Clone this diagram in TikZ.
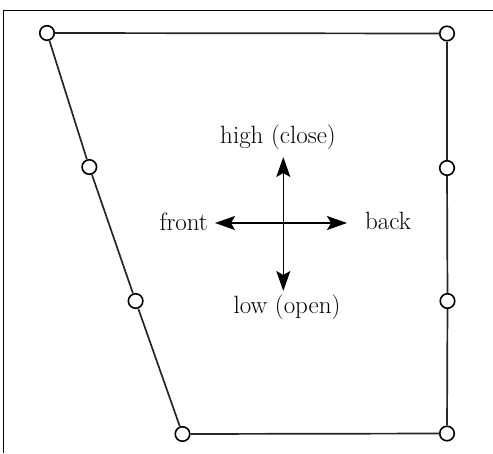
\documentclass[tikz,border=0pt]{standalone}
\usetikzlibrary{arrows.meta}
\begin{document}
\begin{tikzpicture}[x=1pt,y=-1pt,
  joint/.style={circle,draw=black,fill=white,line width=1.6pt,minimum size=14.5pt,inner sep=0pt},
  edge/.style={draw=black!85,line width=1.7pt},
  frameline/.style={draw=black,line width=1.3pt},
  dirarrow/.style={line width=1.6pt,{Stealth[length=20pt,width=14pt,inset=4pt]}-{Stealth[length=20pt,width=14pt,inset=4pt]}},
  lbl/.style={inner sep=0pt,font=\fontsize{25}{29}\selectfont}]
\useasboundingbox (0,0) rectangle (493,453);
\coordinate (f1) at (3.5,453);
\coordinate (f2) at (3.5,10.5);
\coordinate (f3) at (493,10.5);
\draw[frameline] (f1) -- (f2) -- (f3);
% joints
\node[joint] (tl) at (47,33) {};
\node[joint] (l1) at (89.3,167) {};
\node[joint] (l2) at (135.6,301) {};
\node[joint] (bl) at (182.5,434) {};
\node[joint] (br) at (447,433.5) {};
\node[joint] (r2) at (447.5,301) {};
\node[joint] (r1) at (447,168) {};
\node[joint] (tr) at (447,33.5) {};
\draw[edge] (tl) -- (l1);
\draw[edge] (l1) -- (l2);
\draw[edge] (l2) -- (bl);
\draw[edge] (bl) -- (br);
\draw[edge] (br) -- (r2);
\draw[edge] (r2) -- (r1);
\draw[edge] (r1) -- (tr);
\draw[edge] (tr) -- (tl);
% direction arrows
\coordinate (up) at (283.3,157);
\coordinate (down) at (283.3,291);
\coordinate (left) at (215,223);
\coordinate (right) at (347,223);
\draw[dirarrow] (up) -- (down);
\draw[dirarrow] (left) -- (right);
% labels
\node[lbl] (hi) at (278,137) {high (close)};
\node[lbl,anchor=east] (fr) at (208,222) {front};
\node[lbl,anchor=west] (bk) at (365,221) {back};
\node[lbl] (lo) at (287,307) {low (open)};
\end{tikzpicture}
\end{document}
